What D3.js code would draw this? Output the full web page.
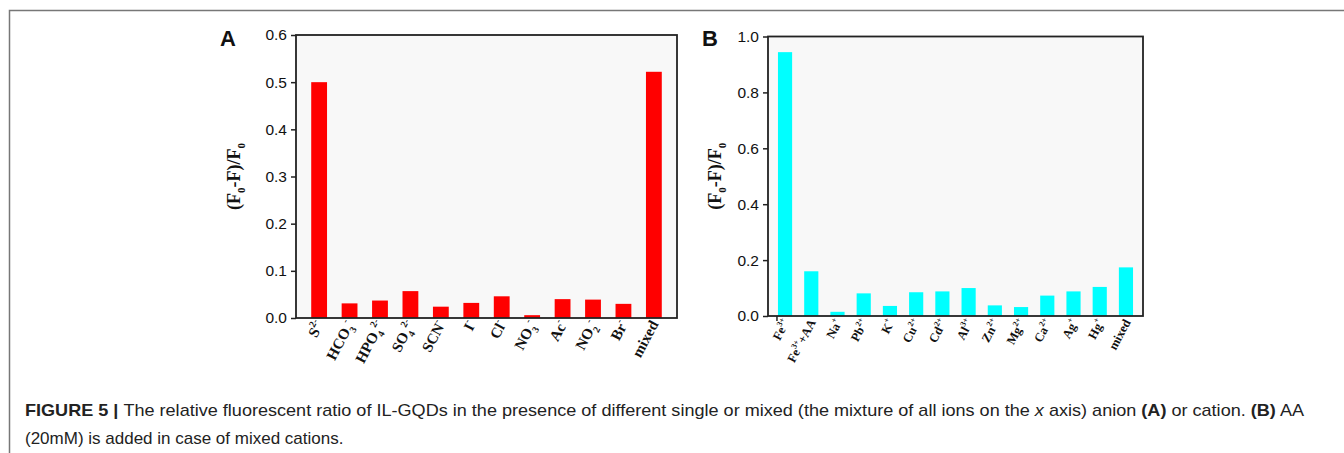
<!DOCTYPE html>
<html>
<head>
<meta charset="utf-8">
<script src="https://cdn.jsdelivr.net/npm/d3@7"></script>
<style>
  body { margin: 0; background: #fff; }
  svg { display: block; }
</style>
</head>
<body>
<div id="app"></div>
<script>
// panel A: anions
const anionLabels = [
  ['S', '', '2-'], ['HCO', '3', '-'], ['HPO', '4', '2-'], ['SO', '4', '2-'],
  ['SCN', '', '-'], ['I', '', '-'], ['Cl', '', '-'], ['NO', '3', '-'],
  ['Ac', '', '-'], ['NO', '2', '-'], ['Br', '', '-'], ['mixed', '', '']
]
const anionValues = [0.500, 0.031, 0.037, 0.057, 0.024, 0.032, 0.046, 0.006, 0.040, 0.039, 0.030, 0.522]
const anionTicks = [0.0, 0.1, 0.2, 0.3, 0.4, 0.5, 0.6]

// panel B: cations
const cationLabels = [
  ['Fe', '', '3+'], ['Fe', '', '3+', '+AA'], ['Na', '', '+'], ['Pb', '', '2+'],
  ['K', '', '+'], ['Cu', '', '2+'], ['Cd', '', '2+'], ['Al', '', '3+'],
  ['Zn', '', '2+'], ['Mg', '', '2+'], ['Ca', '', '2+'], ['Ag', '', '+'],
  ['Hg', '', '+'], ['mixed', '', '']
]
const cationValues = [0.944, 0.160, 0.015, 0.081, 0.036, 0.085, 0.088, 0.100, 0.038, 0.032, 0.073, 0.088, 0.104, 0.174]
const cationTicks = [0.0, 0.2, 0.4, 0.6, 0.8, 1.0]

const W = 1344, H = 453
const svg = d3.select('#app').append('svg').attr('width', W).attr('height', H)

// page frame
svg.append('path')
  .attr('d', `M9.5,${H} V10.5 H${W}`)
  .attr('fill', 'none').attr('stroke', '#777').attr('stroke-width', 1.5)

function panel(opt) {
  const { left, right, top, bottom, labels, values, ticks, ymax, color, letter, fs, titleX, bandPad, outerPad, firstTick } = opt
  const g = svg.append('g')

  const x = d3.scaleBand().domain(d3.range(values.length)).range([left, right])
    .paddingInner(bandPad).paddingOuter(outerPad)
  const y = d3.scaleLinear().domain([0, ymax]).range([bottom, top])

  g.append('rect')
    .attr('x', left).attr('y', top).attr('width', right - left).attr('height', bottom - top)
    .attr('fill', '#f8f8f8')

  g.selectAll('rect.bar').data(values).join('rect')
    .attr('class', 'bar')
    .attr('x', (d, i) => x(i))
    .attr('width', x.bandwidth())
    .attr('y', d => y(d))
    .attr('height', d => y(0) - y(d))
    .attr('fill', color)

  g.append('rect')
    .attr('x', left).attr('y', top).attr('width', right - left).attr('height', bottom - top)
    .attr('fill', 'none').attr('stroke', '#222').attr('stroke-width', 1.8)

  const yAxis = g.append('g').attr('transform', `translate(${left},0)`)
    .call(d3.axisLeft(y).tickValues(ticks).tickFormat(d3.format('.1f')).tickSize(5).tickPadding(4))
  yAxis.select('.domain').remove()
  yAxis.selectAll('line').attr('stroke', '#222').attr('stroke-width', 1.5)
  yAxis.selectAll('text').attr('font-family', 'Liberation Sans, Arial, sans-serif')
    .attr('font-size', 15.5).attr('fill', '#111')

  if (firstTick) {
    g.append('line')
      .attr('x1', x(0) - 1).attr('x2', x(0) - 1)
      .attr('y1', bottom).attr('y2', bottom + 5)
      .attr('stroke', '#222').attr('stroke-width', 1.5)
  }

  // x labels
  const lab = g.selectAll('text.xl').data(labels).join('text')
    .attr('class', 'xl')
    .attr('transform', (d, i) => `translate(${x(i) + x.bandwidth() / 2 + 5},${bottom + 6}) rotate(-62)`)
    .attr('text-anchor', 'end')
    .attr('font-family', 'Liberation Serif, Times New Roman, serif')
    .attr('font-weight', 'bold')
    .attr('font-size', fs)
    .attr('fill', '#111')
  lab.each(function (d) {
    const t = d3.select(this)
    t.append('tspan').text(d[0])
    if (d[1]) t.append('tspan').attr('font-size', fs * 0.65).attr('dy', fs * 0.3).text(d[1])
    if (d[2]) t.append('tspan').attr('font-size', fs * 0.65).attr('dy', d[1] ? -fs * 0.75 : -fs * 0.45).text(d[2])
    if (d[3]) t.append('tspan').attr('dy', fs * 0.45).text(d[3])
  })

  // y title
  const ty = (top + bottom) / 2
  const tt = g.append('text')
    .attr('transform', `translate(${titleX},${ty}) rotate(-90)`)
    .attr('text-anchor', 'middle')
    .attr('font-family', 'Liberation Serif, Times New Roman, serif')
    .attr('font-weight', 'bold').attr('font-size', 18).attr('fill', '#111')
  tt.append('tspan').text('(F')
  tt.append('tspan').attr('font-size', 11).attr('dy', 5).text('0')
  tt.append('tspan').attr('dy', -5).text('-F)/F')
  tt.append('tspan').attr('font-size', 11).attr('dy', 5).text('0')

  g.append('text')
    .attr('x', opt.letterX).attr('y', 46)
    .attr('font-family', 'Liberation Sans, Arial, sans-serif')
    .attr('font-weight', 'bold').attr('font-size', 22).attr('fill', '#111')
    .text(letter)
}

panel({
  left: 296, right: 677, top: 35, bottom: 318,
  labels: anionLabels, values: anionValues, ticks: anionTicks, ymax: 0.6,
  color: '#ff0000', letter: 'A', letterX: 220, fs: 15, titleX: 240,
  bandPad: 0.48, outerPad: 0.5
})

panel({
  left: 768, right: 1143, top: 36.5, bottom: 316,
  labels: cationLabels, values: cationValues, ticks: cationTicks, ymax: 1.0,
  color: '#00ffff', letter: 'B', letterX: 702, fs: 12.5, titleX: 721,
  bandPad: 0.46, outerPad: 0.38, firstTick: true
})

// caption
const cap = svg.append('g').attr('font-family', 'Liberation Sans, Arial, sans-serif')
  .attr('font-size', 17).attr('fill', '#222')
const l1 = cap.append('text').attr('x', 25).attr('y', 416)
  .attr('textLength', 1279).attr('lengthAdjust', 'spacingAndGlyphs')
l1.append('tspan').attr('font-weight', 'bold').text('FIGURE 5 | ')
l1.append('tspan').text('The relative fluorescent ratio of IL-GQDs in the presence of different single or mixed (the mixture of all ions on the ')
l1.append('tspan').attr('font-style', 'italic').text('x')
l1.append('tspan').text(' axis) anion ')
l1.append('tspan').attr('font-weight', 'bold').text('(A)')
l1.append('tspan').text(' or cation. ')
l1.append('tspan').attr('font-weight', 'bold').text('(B)')
l1.append('tspan').text(' AA')
cap.append('text').attr('x', 25).attr('y', 444).text('(20mM) is added in case of mixed cations.')
</script>
</body>
</html>
